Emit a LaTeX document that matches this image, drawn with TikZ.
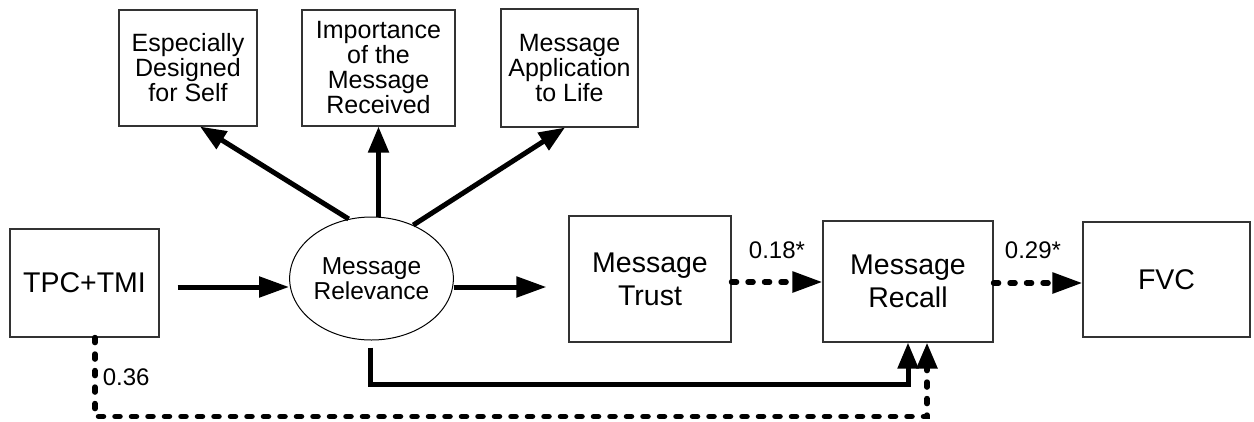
\documentclass[tikz,border=0pt]{standalone}
\usepackage{fontspec}
\setmainfont{Liberation Sans}
\usetikzlibrary{arrows.meta,calc,shapes.geometric}
\begin{document}
\begin{tikzpicture}[x=1pt,y=-1pt,
  box/.style={draw=black!80, line width=1.1pt, inner sep=0pt, align=center,
              font=\fontsize{25}{25}\selectfont},
  bigbox/.style={box, font=\fontsize{28.5}{33}\selectfont},
  oval/.style={draw=black, line width=1pt, ellipse, inner sep=0pt, align=center,
              font=\fontsize{24.5}{25}\selectfont},
  conn/.style={line width=5pt},
  arrh/.style={-{Triangle[length=30pt,width=20pt]}},
  arrv/.style={-{Triangle[length=26pt,width=20pt]}},
  dots/.style={line width=5.5pt, line cap=round, dash pattern=on 5pt off 11.5pt},
  lab/.style={font=\fontsize{24}{25}\selectfont, inner sep=0pt}]
\useasboundingbox (0,0) rectangle (1254,421);

% indicator boxes on top
\node[box, minimum width=138pt, minimum height=116pt] (self) at (188,68)
  {Especially\\Designed\\for Self};
\node[box, minimum width=153pt, minimum height=116pt] (imp) at (378.5,68)
  {Importance\\of the\\Message\\Received};
\node[box, minimum width=137pt, minimum height=118pt] (app) at (569.5,68)
  {Message\\Application\\to Life};

% main row
\node[bigbox, minimum width=149pt, minimum height=108pt] (tpc) at (84.5,283) {TPC+TMI};
\node[oval, minimum width=157pt, minimum height=123pt] (rel) at (371.5,278.5)
  {Message\\Relevance};
\node[bigbox, minimum width=162pt, minimum height=126pt] (trust) at (650,279)
  {Message\\Trust};
\node[bigbox, minimum width=170pt, minimum height=121pt] (recall) at (908,281.5)
  {Message\\Recall};
\node[bigbox, minimum width=167pt, minimum height=115pt] (fvc) at (1166.5,279.5) {FVC};

% spokes to the indicators
\draw[conn,arrv] (rel.111) -- ([xshift=12pt]self.south);
\draw[conn,arrv] (rel.north -| imp.south) -- (imp.south);
\draw[conn,arrv] (rel.52) -- ([xshift=-4.5pt]app.south);

% solid paths
\draw[conn,arrh] ([xshift=18pt,yshift=-4pt]tpc.east) -- ([yshift=-8.5pt]rel.west);
\draw[conn,arrh] ([yshift=-8.5pt]rel.east) -- ([xshift=-22pt,yshift=-8pt]trust.west);
\draw[conn,arrv] ([xshift=-1.5pt,yshift=-7pt]rel.south)
  |- ($(recall.south)+(0,42)$) -- (recall.south);

% dotted paths
\coordinate (t1) at ([yshift=-3pt]trust.east);
\draw[dots,arrh] (t1) -- (t1 -| recall.west)
  node[lab, midway, yshift=32pt] {0.18*};
\coordinate (r1) at ([yshift=-1.5pt]recall.east);
\draw[dots,arrh] (r1) -- (r1 -| fvc.west)
  node[lab, midway, xshift=-5pt, yshift=33pt] {0.29*};
\draw[dots,arrv] ([xshift=10.5pt]tpc.south)
  |- ($(recall.south)+(19,74)$)
  node[lab, pos=0.253, anchor=west, xshift=5pt] {0.36}
  -- ([xshift=19pt]recall.south);
\end{tikzpicture}
\end{document}
